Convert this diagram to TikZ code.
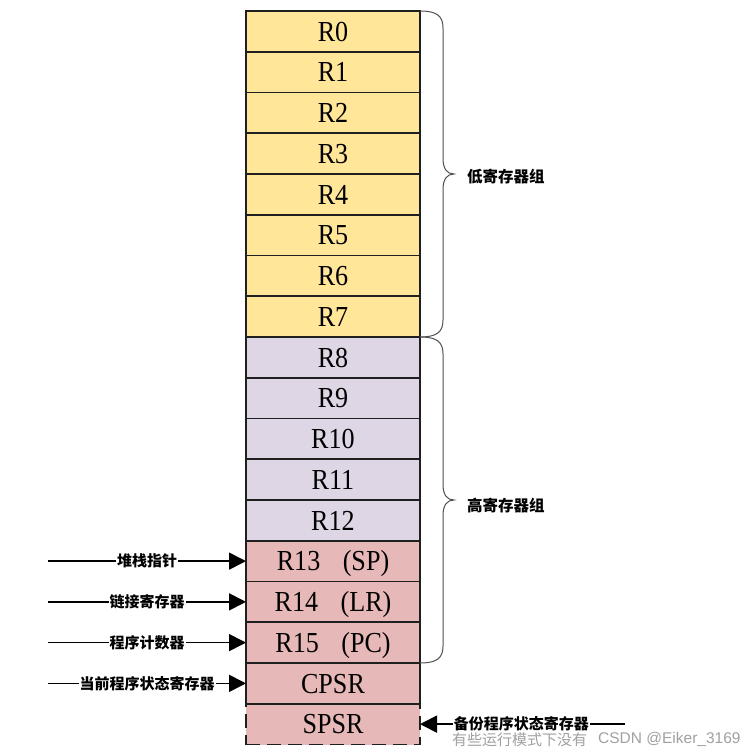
\documentclass[tikz,border=0pt]{standalone}
\usepackage{fontspec}
\setmainfont{Liberation Serif}
\newfontfamily\cjk{Noto Sans CJK SC}
\newfontfamily\wmfont{Liberation Sans}
\usetikzlibrary{arrows.meta}
\definecolor{yel}{HTML}{FFE699}
\definecolor{pur}{HTML}{DED6E4}
\definecolor{pnk}{HTML}{E6B8B7}
\definecolor{brc}{HTML}{505050}
\definecolor{notegray}{HTML}{A0A0A0}
\begin{document}
\begin{tikzpicture}[x=1pt,y=-1pt,
  reg/.style={draw=black!88, line width=1.8pt, minimum width=174pt, minimum height=40.75pt,
    inner sep=0pt, outer sep=0pt, font=\fontsize{29}{29}\selectfont, text height=19.5pt, text depth=0pt},
  arr/.style={line width=1.7pt, -{Triangle[length=17pt,width=17pt]}},
  lab/.style={fill=white, inner sep=1pt, font=\cjk\bfseries\fontsize{15}{15}\selectfont},
  grouplab/.style={anchor=west, inner sep=0pt, font=\cjk\bfseries\fontsize{15.5}{15.5}\selectfont},
  bracepath/.style={draw=brc, line width=1pt},
  spsrbox/.style={reg, dash pattern=on 14pt off 7pt}]
\useasboundingbox (0,0) rectangle (756,754);
% low registers
\foreach \i in {0,...,7}{
  \node[reg, fill=yel] (r\i) at (333, 11+40.75*\i+20.375) {\scalebox{0.9}[1]{R\i}};
}
% high registers
\foreach \i in {8,...,12}{
  \node[reg, fill=pur] (r\i) at (333, 11+40.75*\i+20.375) {\scalebox{0.9}[1]{R\i}};
}
\node[reg, fill=pnk] (r13) at (333, 11+40.75*13+20.375) {\scalebox{0.9}[1]{R13\hspace{25pt}(SP)}};
\node[reg, fill=pnk] (r14) at (333, 11+40.75*14+20.375) {\scalebox{0.9}[1]{R14\hspace{25pt}(LR)}};
\node[reg, fill=pnk] (r15) at (333, 11+40.75*15+20.375) {\scalebox{0.9}[1]{R15\hspace{25pt}(PC)}};
\node[spsrbox, fill=pnk] (spsr) at (333, 11+40.75*17+20.375) {\scalebox{0.9}[1]{SPSR}};
\node[reg, fill=pnk] (cpsr) at (333, 11+40.75*16+20.375) {\scalebox{0.9}[1]{CPSR}};

% braces
\coordinate (tiplow) at (454,174);
\coordinate (tiphigh) at (454,500);
\draw[bracepath] (r0.north east) .. controls +(17,0) and +(0,-12) .. (443,28) -- (443,158)
  .. controls +(0,11) and +(-7,0) .. (tiplow) .. controls +(-7,0) and +(0,-11) .. (443,190)
  -- (443,320) .. controls +(0,12) and +(17,0) .. (r7.south east);
\draw[bracepath] (r8.north east) .. controls +(17,0) and +(0,-12) .. (443,354) -- (443,484)
  .. controls +(0,11) and +(-7,0) .. (tiphigh) .. controls +(-7,0) and +(0,-11) .. (443,516)
  -- (443,646) .. controls +(0,12) and +(17,0) .. (r15.south east);
\node[grouplab] (lowlab) at (467,177) {低寄存器组};
\node[grouplab] (highlab) at (467,506) {高寄存器组};

% left arrows
\coordinate (s13) at (48, 11+40.75*13+20.375);
\coordinate (s14) at (48, 11+40.75*14+20.375);
\coordinate (s15) at (48, 11+40.75*15+20.375);
\coordinate (scp) at (48, 11+40.75*16+20.375);
\draw[arr] (s13) -- node[lab] {堆栈指针} (r13.west);
\draw[arr] (s14) -- node[lab] {链接寄存器} (r14.west);
\draw[arr] (s15) -- node[lab] {程序计数器} (r15.west);
\draw[arr] (scp) -- node[lab] {当前程序状态寄存器} (cpsr.west);

% right arrow
\coordinate (ssp) at (625, 11+40.75*17+20.375);
\draw[arr] (ssp) -- node[lab, pos=0.505] (spsrlab) {备份程序状态寄存器} (spsr.east);
\node[anchor=west, inner sep=0pt, text=notegray, font=\cjk\fontsize{15}{15}\selectfont] (note) at (452,740) {有些运行模式下没有};
\node[anchor=west, inner sep=0pt, text=notegray, font=\wmfont\fontsize{15.5}{15.5}\selectfont] (wm) at (598,739) {CSDN @Eiker\_3169};
\end{tikzpicture}
\end{document}
